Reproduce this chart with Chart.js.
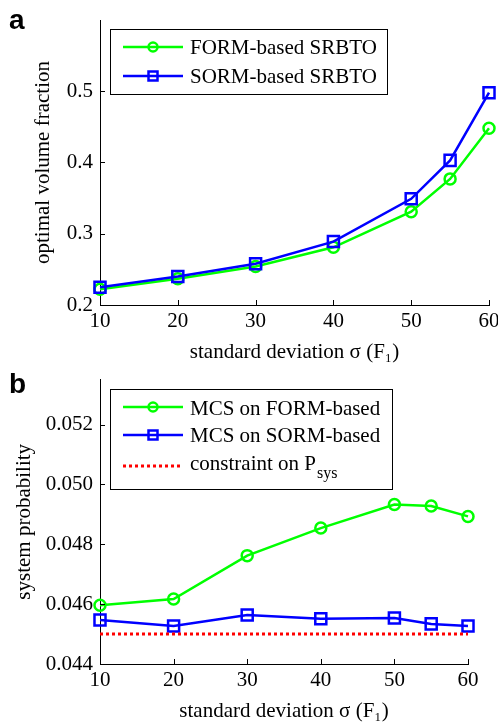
<!DOCTYPE html>
<html>
<head>
<meta charset="utf-8">
<script src="https://cdn.jsdelivr.net/npm/chart.js@4.4.0/dist/chart.umd.min.js"></script>
<style>
  html, body { margin: 0; padding: 0; background: #fff; width: 498px; height: 724px; overflow: hidden; position: relative; }
  canvas { position: absolute; left: 0; }
  #chartA { top: 0; }
  #chartB { top: 360px; }
  .panel { position: absolute; left: 9px; font-family: 'Liberation Sans', Arial, sans-serif; font-weight: bold; font-size: 28px; line-height: 28px; color: #000; }
</style>
</head>
<body>
<canvas id="chartA" width="520" height="365"></canvas>
<canvas id="chartB" width="498" height="364"></canvas>
<div class="panel" style="top:6px;">a</div>
<div class="panel" style="top:370px;">b</div>

<script>
// --- Data ---
const sigma = [10, 20, 30, 40, 50, 55, 60];
const sigmaTicks = [10, 20, 30, 40, 50, 60];

// (a) optimal volume fraction
const volFORM = [0.222, 0.237, 0.254, 0.281, 0.331, 0.377, 0.448];
const volSORM = [0.225, 0.240, 0.258, 0.289, 0.349, 0.403, 0.498];
const volTicks = [0.2, 0.3, 0.4, 0.5];

// (b) system probability
const probFORM = [0.04596, 0.04617, 0.04762, 0.04854, 0.04933, 0.04928, 0.04893];
const probSORM = [0.04547, 0.04527, 0.04564, 0.04551, 0.04554, 0.04534, 0.04527];
const constraintX = [10, 60];
const constraintP = [0.045, 0.045];
const probTicks = [0.044, 0.046, 0.048, 0.050, 0.052];

const GREEN = 'rgb(0,255,0)';
const BLUE = 'rgb(0,0,255)';
const RED = 'rgb(255,0,0)';
const SERIF = "'Liberation Serif', 'DejaVu Serif', serif";

Chart.defaults.font.family = SERIF;
Chart.defaults.font.size = 21;
Chart.defaults.color = '#000';

function pts(xs, ys) {
  return xs.map((x, i) => ({x: x, y: ys[i]}));
}

// marker drawing, hollow like matlab
function drawMarker(ctx, style, x, y, r, color, lw) {
  ctx.save();
  ctx.strokeStyle = color;
  ctx.lineWidth = lw;
  ctx.beginPath();
  if (style === 'circle') {
    ctx.arc(x, y, r, 0, Math.PI * 2);
  } else {
    ctx.rect(x - r, y - r, 2 * r, 2 * r);
  }
  ctx.stroke();
  ctx.restore();
}

// --- inward tick marks ---
const innerTicks = {
  id: 'innerTicks',
  afterDraw(chart) {
    const ctx = chart.ctx;
    const a = chart.chartArea;
    ctx.save();
    ctx.strokeStyle = '#000';
    ctx.lineWidth = 1;
    ctx.beginPath();
    chart.scales.x.ticks.forEach(t => {
      let px = Math.round(chart.scales.x.getPixelForValue(t.value)) + 0.5;
      ctx.moveTo(px, a.bottom);
      ctx.lineTo(px, a.bottom - 5);
    });
    chart.scales.y.ticks.forEach(t => {
      let py = Math.round(chart.scales.y.getPixelForValue(t.value)) + 0.5;
      ctx.moveTo(a.left, py);
      ctx.lineTo(a.left + 5, py);
    });
    ctx.stroke();
    ctx.restore();
  }
};

// --- boxed legend (supports P_sys subscript) ---
const boxLegend = {
  id: 'boxLegend',
  afterDraw(chart, args, o) {
    const ctx = chart.ctx;
    ctx.save();
    ctx.fillStyle = '#fff';
    ctx.fillRect(o.x, o.y, o.w, o.h);
    ctx.strokeStyle = '#000';
    ctx.lineWidth = 1;
    ctx.strokeRect(o.x + 0.5, o.y + 0.5, o.w, o.h);
    chart.data.datasets.forEach((ds, i) => {
      const row = o.rows[i];
      ctx.strokeStyle = ds.borderColor;
      ctx.lineWidth = ds.borderWidth;
      ctx.setLineDash(ds.borderDash || []);
      ctx.beginPath();
      ctx.moveTo(o.x0, row.line);
      ctx.lineTo(o.x1, row.line);
      ctx.stroke();
      ctx.setLineDash([]);
      if (ds.pointRadius) {
        drawMarker(ctx, ds.pointStyle, (o.x0 + o.x1) / 2, row.line, 4.5, ds.borderColor, 2.5);
      }
      ctx.fillStyle = '#000';
      ctx.textBaseline = 'alphabetic';
      ctx.textAlign = 'left';
      const parts = ds.label.split('_');
      ctx.font = '21px ' + SERIF;
      ctx.fillText(parts[0], o.tx, row.base);
      if (parts[1]) {
        const w = ctx.measureText(parts[0]).width;
        ctx.font = '16px ' + SERIF;
        ctx.fillText(parts[1], o.tx + w + 1, row.base + 8);
      }
    });
    ctx.restore();
  }
};

function axes(yTicks, yMin, yMax, yDigits, yTitle, yTitlePad) {
  return {
    x: {
      type: 'linear',
      min: 10,
      max: 60,
      grid: {display: false, drawTicks: false},
      border: {display: true, color: '#000', width: 1},
      afterBuildTicks: s => { s.ticks = sigmaTicks.map(v => ({value: v})); },
      afterFit: s => { s.height = 60; },
      ticks: {padding: 4, autoSkip: false, maxRotation: 0, callback: v => String(v)},
      title: {display: true, text: 'standard deviation σ (F₁)', padding: {top: 0, bottom: 0}}
    },
    y: {
      type: 'linear',
      min: yMin,
      max: yMax,
      grid: {display: false, drawTicks: false},
      border: {display: true, color: '#000', width: 1},
      afterBuildTicks: s => { s.ticks = yTicks.map(v => ({value: v})); },
      afterFit: s => { s.width = 100; },
      ticks: {padding: 7, autoSkip: false, callback: v => v.toFixed(yDigits)},
      title: {display: true, text: yTitle, padding: {top: yTitlePad, bottom: 0}}
    }
  };
}

const lineStyle = (label, color, style, order) => ({
  label: label,
  borderColor: color,
  backgroundColor: 'transparent',
  borderWidth: 2.5,
  pointStyle: style,
  pointRadius: style === 'circle' ? 5.5 : 7.8,
  pointBorderWidth: 2.5,
  pointBackgroundColor: 'transparent',
  pointBorderColor: color,
  tension: 0,
  clip: false,
  order: order
});

// --- Chart a ---
new Chart(document.getElementById('chartA'), {
  type: 'line',
  data: {
    datasets: [
      Object.assign(lineStyle('FORM-based SRBTO', GREEN, 'circle', 2), {data: pts(sigma, volFORM)}),
      Object.assign(lineStyle('SORM-based SRBTO', BLUE, 'rect', 1), {data: pts(sigma, volSORM)})
    ]
  },
  options: {
    responsive: false,
    animation: false,
    layout: {padding: {left: 0, top: 20, right: 31, bottom: 0}},
    scales: axes(volTicks, 0.2, 0.6, 1, 'optimal volume fraction', 31),
    plugins: {
      legend: {display: false},
      tooltip: {enabled: false},
      boxLegend: {
        x: 110, y: 29, w: 277, h: 65,
        x0: 123, x1: 183, tx: 190,
        rows: [{line: 47, base: 54}, {line: 76, base: 83}]
      }
    }
  },
  plugins: [innerTicks, boxLegend]
});

// --- Chart b ---
new Chart(document.getElementById('chartB'), {
  type: 'line',
  data: {
    datasets: [
      Object.assign(lineStyle('MCS on FORM-based', GREEN, 'circle', 3), {data: pts(sigma, probFORM)}),
      Object.assign(lineStyle('MCS on SORM-based', BLUE, 'rect', 2), {data: pts(sigma, probSORM)}),
      {
        label: 'constraint on P_sys',
        data: pts(constraintX, constraintP),
        borderColor: RED,
        borderWidth: 3,
        borderDash: [3, 3],
        pointRadius: 0,
        tension: 0,
        clip: false,
        order: 1
      }
    ]
  },
  options: {
    responsive: false,
    animation: false,
    layout: {padding: {left: 0, top: 18, right: 30, bottom: 0}},
    scales: axes(probTicks, 0.044, 0.0535, 3, 'system probability', 12),
    plugins: {
      legend: {display: false},
      tooltip: {enabled: false},
      boxLegend: {
        x: 110, y: 29, w: 282, h: 100,
        x0: 123, x1: 183, tx: 190,
        rows: [{line: 47, base: 55}, {line: 75, base: 82}, {line: 106, base: 110}]
      }
    }
  },
  plugins: [innerTicks, boxLegend]
});
</script>
</body>
</html>
